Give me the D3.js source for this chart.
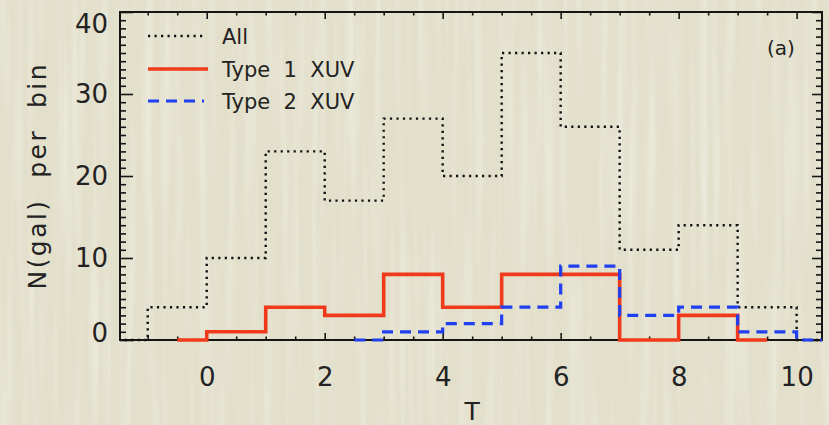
<!DOCTYPE html>
<html>
<head>
<meta charset="utf-8">
<script src="https://cdn.jsdelivr.net/npm/d3@7"></script>
<style>
  html, body { margin: 0; padding: 0; background: #e2dfcb; }
  svg { display: block; }
  text { font-family: "DejaVu Sans", sans-serif; fill: #222222; white-space: pre; }
</style>
</head>
<body>
<svg id="chart" width="829" height="425"></svg>
<script>
// Morphological type T at bin centres and galaxy counts per bin
const tAll   = [-1.5, -0.5, 0.5, 1.5, 2.5, 3.5, 4.5, 5.5, 6.5, 7.5, 8.5, 9.5, 10.5];
const nAll   = [0, 4, 10, 23, 17, 27, 20, 35, 26, 11, 14, 4, 0];
const tType1 = [-0.5, 0.5, 1.5, 2.5, 3.5, 4.5, 5.5, 6.5, 7.5, 8.5, 9.5];
const nType1 = [0, 1, 4, 3, 8, 4, 8, 8, 0, 3, 0];
const tType2 = [2.5, 3.5, 4.5, 5.5, 6.5, 7.5, 8.5, 9.5, 10.5];
const nType2 = [0, 1, 2, 4, 9, 3, 4, 1, 0];

const seriesNames = ["All", "Type  1  XUV", "Type  2  XUV"];
const xTickValues = [0, 2, 4, 6, 8, 10];
const yTickValues = [0, 10, 20, 30, 40];
const xTitle = "T";
const yTitle = "N(gal)  per  bin";
const panelLabel = "(a)";

const W = 829, H = 425;
const plot = { left: 120, right: 822, top: 12, bottom: 340 };

const svg = d3.select("#chart");

// paper background with faint vertical streaks
const defs = svg.append("defs");
const f = defs.append("filter").attr("id", "paper")
  .attr("x", 0).attr("y", 0).attr("width", "100%").attr("height", "100%");
f.append("feTurbulence").attr("type", "fractalNoise")
  .attr("baseFrequency", "0.11 0.004").attr("numOctaves", 2).attr("seed", 7);
f.append("feColorMatrix").attr("type", "matrix")
  .attr("values", "0 0 0 0 1  0 0 0 0 1  0 0 0 0 0.96  1.4 0 0 0 -0.62");
svg.append("rect").attr("width", W).attr("height", H).attr("fill", "#e2dfcb");
svg.append("rect").attr("width", W).attr("height", H)
  .attr("filter", "url(#paper)").attr("opacity", 0.55);

defs.append("clipPath").attr("id", "plotClip").append("rect")
  .attr("x", plot.left).attr("y", plot.top - 2)
  .attr("width", plot.right - plot.left).attr("height", plot.bottom - plot.top + 4);

const x = d3.scaleLinear().domain([-1.47, 10.43]).range([plot.left, plot.right]);
const y = d3.scaleLinear().domain([0, 40]).range([plot.bottom, plot.top]);

const minorX = d3.range(-1, 10.5, 0.5).filter(v => !xTickValues.includes(v));
const minorY = d3.range(0, 41, 1).filter(v => !yTickValues.includes(v));

const axisColor = "#151515";
function styleAxis(g) {
  g.select(".domain").remove();
  g.selectAll("line").attr("stroke", axisColor).attr("stroke-width", 1.6);
}

// minor ticks
svg.append("g").attr("transform", `translate(0,${plot.bottom})`)
  .call(d3.axisBottom(x).tickValues(minorX).tickSize(-3.5).tickFormat(""))
  .call(styleAxis);
svg.append("g").attr("transform", `translate(0,${plot.top})`)
  .call(d3.axisTop(x).tickValues(minorX).tickSize(-3.5).tickFormat(""))
  .call(styleAxis);
svg.append("g").attr("transform", `translate(${plot.left},0)`)
  .call(d3.axisLeft(y).tickValues(minorY).tickSize(-6).tickFormat(""))
  .call(styleAxis);
svg.append("g").attr("transform", `translate(${plot.right},0)`)
  .call(d3.axisRight(y).tickValues(minorY).tickSize(-6).tickFormat(""))
  .call(styleAxis);

// major ticks with labels
const xAxisG = svg.append("g").attr("transform", `translate(0,${plot.bottom})`)
  .call(d3.axisBottom(x).tickValues(xTickValues).tickSize(-7).tickPadding(28).tickFormat(d3.format("d")))
  .call(styleAxis);
xAxisG.selectAll("text").attr("font-size", 26).attr("font-family", "DejaVu Sans").attr("fill", "#222222");

svg.append("g").attr("transform", `translate(0,${plot.top})`)
  .call(d3.axisTop(x).tickValues(xTickValues).tickSize(-7).tickFormat(""))
  .call(styleAxis);

const yAxisG = svg.append("g").attr("transform", `translate(${plot.left},0)`)
  .call(d3.axisLeft(y).tickValues(yTickValues).tickSize(-13).tickPadding(12).tickFormat(d3.format("d")))
  .call(styleAxis);
yAxisG.selectAll("text").attr("font-size", 26).attr("font-family", "DejaVu Sans").attr("fill", "#222222");
// keep the end labels inside the frame's vertical extent
yAxisG.selectAll(".tick").filter(d => d === 0).select("text").attr("dy", "0.05em");
yAxisG.selectAll(".tick").filter(d => d === 40).select("text").attr("dy", "0.78em");

svg.append("g").attr("transform", `translate(${plot.right},0)`)
  .call(d3.axisRight(y).tickValues(yTickValues).tickSize(-10).tickFormat(""))
  .call(styleAxis);

// frame
svg.append("rect")
  .attr("x", plot.left).attr("y", plot.top)
  .attr("width", plot.right - plot.left).attr("height", plot.bottom - plot.top)
  .attr("fill", "none").attr("stroke", axisColor).attr("stroke-width", 2);

// histogram steps
const step = d3.line().x(d => x(d[0])).y(d => y(d[1])).curve(d3.curveStep);
const series = [
  { t: tAll,   n: nAll,   color: "#111111", width: 2.4, dash: "2.2 4.3" },
  { t: tType1, n: nType1, color: "#f03a1c", width: 3.6, dash: null },
  { t: tType2, n: nType2, color: "#1f3ff0", width: 3.2, dash: "11 7" }
];
const gSeries = svg.append("g").attr("clip-path", "url(#plotClip)");
series.forEach(s => {
  gSeries.append("path")
    .datum(d3.zip(s.t, s.n))
    .attr("d", step)
    .attr("fill", "none")
    .attr("stroke", s.color)
    .attr("stroke-width", s.width)
    .attr("stroke-dasharray", s.dash);
});

// legend
const legend = svg.append("g");
const legendRows = [36, 69, 101];
series.forEach((s, i) => {
  legend.append("line")
    .attr("x1", 148).attr("x2", i === 1 ? 208 : 204)
    .attr("y1", legendRows[i]).attr("y2", legendRows[i])
    .attr("stroke", s.color).attr("stroke-width", s.width)
    .attr("stroke-dasharray", s.dash);
  legend.append("text")
    .attr("x", 222).attr("y", legendRows[i] + 8)
    .attr("font-size", 21)
    .text(seriesNames[i]);
});

// panel label
svg.append("text").attr("x", 781).attr("y", 55)
  .attr("text-anchor", "middle").attr("font-size", 20)
  .text(panelLabel);

// axis titles
svg.append("text")
  .attr("x", x(4.5)).attr("y", 420)
  .attr("text-anchor", "middle").attr("font-size", 25)
  .text(xTitle);
svg.append("text")
  .attr("transform", "translate(46,177) rotate(-90)")
  .attr("text-anchor", "middle").attr("font-size", 25)
  .attr("textLength", 225).attr("lengthAdjust", "spacing")
  .text(yTitle);
</script>
</body>
</html>
